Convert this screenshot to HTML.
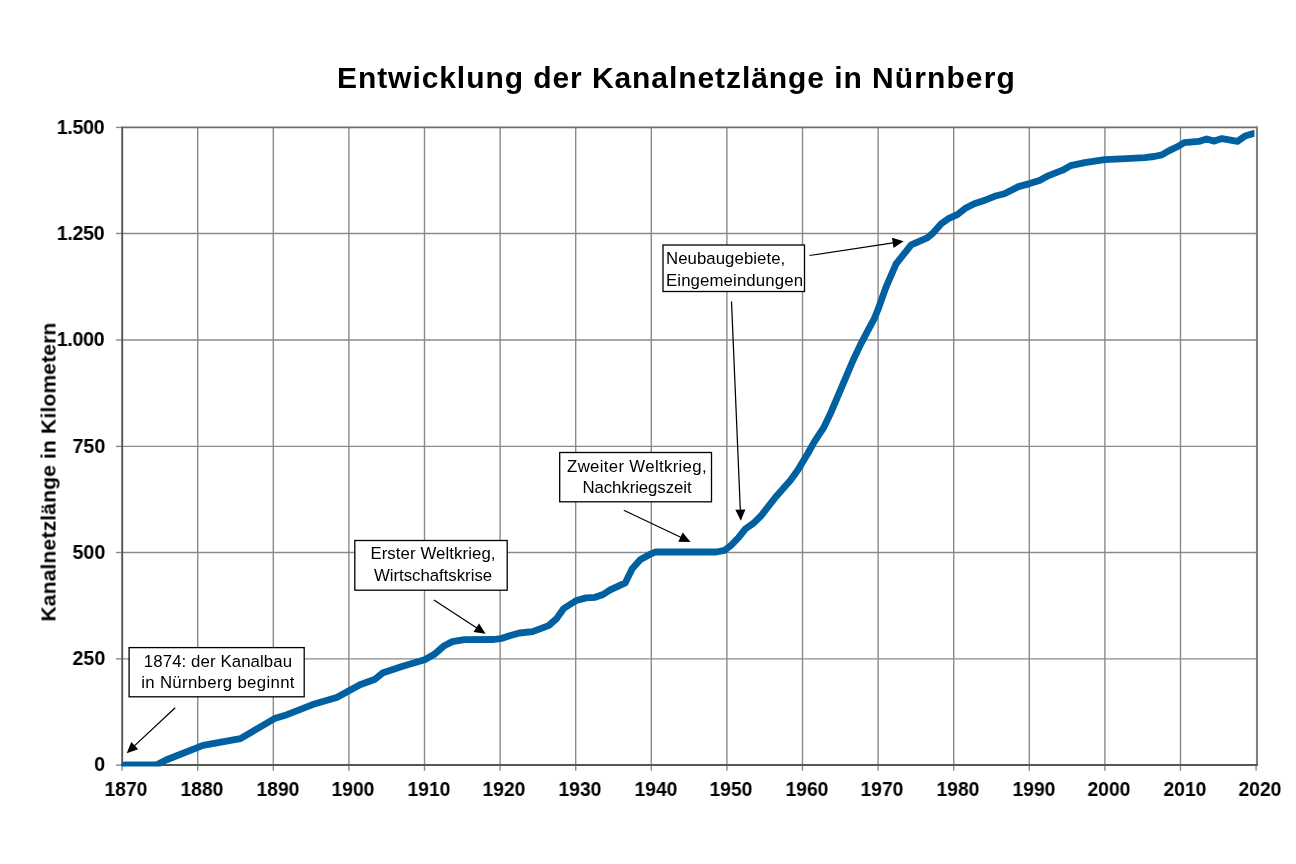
<!DOCTYPE html>
<html lang="de"><head><meta charset="utf-8"><title>Entwicklung der Kanalnetzlänge in Nürnberg</title>
<style>
html,body{margin:0;padding:0;background:#fff;}
body{width:1296px;height:864px;position:relative;overflow:hidden;font-family:"Liberation Sans",sans-serif;color:#000;}
.t{position:absolute;white-space:nowrap;will-change:transform;font-family:"Liberation Sans",sans-serif;color:#000;}
</style></head><body>
<svg width="1296" height="864" viewBox="0 0 1296 864" style="position:absolute;left:0;top:0">
<line x1="122.1" y1="127.4" x2="1257.7" y2="127.4" stroke="#6e6e6e" stroke-width="1.7"/>
<line x1="122.1" y1="233.50" x2="1257.0" y2="233.50" stroke="#8a8a8a" stroke-width="1.4"/>
<line x1="122.1" y1="340.05" x2="1257.0" y2="340.05" stroke="#8a8a8a" stroke-width="1.4"/>
<line x1="122.1" y1="446.40" x2="1257.0" y2="446.40" stroke="#8a8a8a" stroke-width="1.4"/>
<line x1="122.1" y1="552.50" x2="1257.0" y2="552.50" stroke="#8a8a8a" stroke-width="1.4"/>
<line x1="122.1" y1="658.90" x2="1257.0" y2="658.90" stroke="#8a8a8a" stroke-width="1.4"/>
<line x1="197.70" y1="127.4" x2="197.70" y2="765.1" stroke="#8a8a8a" stroke-width="1.4"/>
<line x1="273.30" y1="127.4" x2="273.30" y2="765.1" stroke="#8a8a8a" stroke-width="1.4"/>
<line x1="348.90" y1="127.4" x2="348.90" y2="765.1" stroke="#8a8a8a" stroke-width="1.4"/>
<line x1="424.50" y1="127.4" x2="424.50" y2="765.1" stroke="#8a8a8a" stroke-width="1.4"/>
<line x1="500.10" y1="127.4" x2="500.10" y2="765.1" stroke="#8a8a8a" stroke-width="1.4"/>
<line x1="575.70" y1="127.4" x2="575.70" y2="765.1" stroke="#8a8a8a" stroke-width="1.4"/>
<line x1="651.30" y1="127.4" x2="651.30" y2="765.1" stroke="#8a8a8a" stroke-width="1.4"/>
<line x1="726.90" y1="127.4" x2="726.90" y2="765.1" stroke="#8a8a8a" stroke-width="1.4"/>
<line x1="802.50" y1="127.4" x2="802.50" y2="765.1" stroke="#8a8a8a" stroke-width="1.4"/>
<line x1="878.10" y1="127.4" x2="878.10" y2="765.1" stroke="#8a8a8a" stroke-width="1.4"/>
<line x1="953.70" y1="127.4" x2="953.70" y2="765.1" stroke="#8a8a8a" stroke-width="1.4"/>
<line x1="1029.30" y1="127.4" x2="1029.30" y2="765.1" stroke="#8a8a8a" stroke-width="1.4"/>
<line x1="1104.90" y1="127.4" x2="1104.90" y2="765.1" stroke="#8a8a8a" stroke-width="1.4"/>
<line x1="1180.50" y1="127.4" x2="1180.50" y2="765.1" stroke="#8a8a8a" stroke-width="1.4"/>
<line x1="1257.0" y1="126.60000000000001" x2="1257.0" y2="766.1" stroke="#808080" stroke-width="2.1"/>
<line x1="116" y1="127.40" x2="122.1" y2="127.40" stroke="#8a8a8a" stroke-width="1.4"/>
<line x1="116" y1="233.50" x2="122.1" y2="233.50" stroke="#8a8a8a" stroke-width="1.4"/>
<line x1="116" y1="340.05" x2="122.1" y2="340.05" stroke="#8a8a8a" stroke-width="1.4"/>
<line x1="116" y1="446.40" x2="122.1" y2="446.40" stroke="#8a8a8a" stroke-width="1.4"/>
<line x1="116" y1="552.50" x2="122.1" y2="552.50" stroke="#8a8a8a" stroke-width="1.4"/>
<line x1="116" y1="658.90" x2="122.1" y2="658.90" stroke="#8a8a8a" stroke-width="1.4"/>
<line x1="116" y1="765.10" x2="122.1" y2="765.10" stroke="#8a8a8a" stroke-width="1.4"/>
<line x1="122.10" y1="765.1" x2="122.10" y2="770.8" stroke="#8a8a8a" stroke-width="1.4"/>
<line x1="197.70" y1="765.1" x2="197.70" y2="770.8" stroke="#8a8a8a" stroke-width="1.4"/>
<line x1="273.30" y1="765.1" x2="273.30" y2="770.8" stroke="#8a8a8a" stroke-width="1.4"/>
<line x1="348.90" y1="765.1" x2="348.90" y2="770.8" stroke="#8a8a8a" stroke-width="1.4"/>
<line x1="424.50" y1="765.1" x2="424.50" y2="770.8" stroke="#8a8a8a" stroke-width="1.4"/>
<line x1="500.10" y1="765.1" x2="500.10" y2="770.8" stroke="#8a8a8a" stroke-width="1.4"/>
<line x1="575.70" y1="765.1" x2="575.70" y2="770.8" stroke="#8a8a8a" stroke-width="1.4"/>
<line x1="651.30" y1="765.1" x2="651.30" y2="770.8" stroke="#8a8a8a" stroke-width="1.4"/>
<line x1="726.90" y1="765.1" x2="726.90" y2="770.8" stroke="#8a8a8a" stroke-width="1.4"/>
<line x1="802.50" y1="765.1" x2="802.50" y2="770.8" stroke="#8a8a8a" stroke-width="1.4"/>
<line x1="878.10" y1="765.1" x2="878.10" y2="770.8" stroke="#8a8a8a" stroke-width="1.4"/>
<line x1="953.70" y1="765.1" x2="953.70" y2="770.8" stroke="#8a8a8a" stroke-width="1.4"/>
<line x1="1029.30" y1="765.1" x2="1029.30" y2="770.8" stroke="#8a8a8a" stroke-width="1.4"/>
<line x1="1104.90" y1="765.1" x2="1104.90" y2="770.8" stroke="#8a8a8a" stroke-width="1.4"/>
<line x1="1180.50" y1="765.1" x2="1180.50" y2="770.8" stroke="#8a8a8a" stroke-width="1.4"/>
<line x1="1256.10" y1="765.1" x2="1256.10" y2="770.8" stroke="#8a8a8a" stroke-width="1.4"/>
<line x1="122.19999999999999" y1="126.80000000000001" x2="122.19999999999999" y2="765.9" stroke="#555" stroke-width="1.9"/>
<line x1="121.3" y1="765.1" x2="1257.7" y2="765.1" stroke="#555" stroke-width="2.0"/>
<clipPath id="pc"><rect x="121.5" y="122.4" width="1132.9" height="644.0"/></clipPath>
<polyline clip-path="url(#pc)" points="124.6,765.0 156.3,765.0 166.0,760.0 203.0,745.3 240.4,738.6 274.5,718.6 284.5,715.6 312.6,704.6 336.7,697.6 349.0,690.8 360.0,684.8 375.1,679.2 383.1,672.7 404.2,665.7 424.7,659.7 434.3,654.3 444.3,645.7 452.3,641.6 464.4,639.6 494.0,639.5 502.0,638.3 510.5,635.6 519.5,633.0 532.6,631.6 548.6,625.6 556.6,618.6 563.7,608.5 576.3,600.5 586.1,597.9 595.1,597.3 603.1,594.5 610.2,589.9 625.2,582.9 632.2,568.8 640.2,559.8 648.3,555.2 655.3,552.0 716.5,552.0 724.5,550.4 730.5,545.8 738.5,537.7 745.6,528.7 753.6,523.1 760.6,516.3 776.6,495.9 790.7,480.0 798.2,469.5 807.5,454.0 814.3,441.9 823.5,427.9 830.3,413.8 838.4,394.8 845.3,378.7 852.9,360.7 860.5,344.6 867.3,331.6 874.3,318.6 878.0,309.5 886.1,286.9 896.1,263.9 911.2,244.8 927.2,237.8 933.2,232.8 941.2,223.8 948.3,218.7 957.3,214.7 965.3,208.3 974.3,203.7 986.4,199.7 996.4,195.7 1004.4,193.7 1018.5,186.6 1029.5,183.6 1039.5,180.6 1048.6,175.6 1062.6,170.2 1070.6,165.6 1084.7,162.6 1104.7,159.6 1126.3,158.6 1144.8,157.6 1154.1,156.5 1161.8,154.9 1168.7,150.9 1177.2,146.8 1184.2,142.6 1198.8,141.4 1206.5,139.0 1214.3,141.1 1222.0,138.6 1237.4,141.4 1245.1,136.0 1253.6,133.6 1260.0,132.2" fill="none" stroke="#0060a0" stroke-width="6.8" stroke-linejoin="round" stroke-linecap="round"/>
<rect x="129.1" y="647.6" width="175.1" height="49.2" fill="#fff" stroke="#000" stroke-width="1.3"/>
<rect x="354.8" y="540.5" width="152.4" height="49.7" fill="#fff" stroke="#000" stroke-width="1.3"/>
<rect x="559.7" y="452.5" width="151.8" height="49.3" fill="#fff" stroke="#000" stroke-width="1.3"/>
<rect x="663.0" y="245.0" width="141.5" height="46.5" fill="#fff" stroke="#000" stroke-width="1.3"/>
<line x1="175.2" y1="707.7" x2="133.3" y2="746.9" stroke="#000" stroke-width="1.25"/><polygon points="126.7,753.2 131.3,741.9 138.2,749.3" fill="#000"/>
<line x1="433.9" y1="600.1" x2="478.0" y2="628.8" stroke="#000" stroke-width="1.25"/><polygon points="485.6,633.7 473.5,632.0 479.1,623.4" fill="#000"/>
<line x1="623.8" y1="510.2" x2="682.3" y2="538.0" stroke="#000" stroke-width="1.25"/><polygon points="690.5,541.9 678.3,541.7 682.7,532.5" fill="#000"/>
<line x1="809.5" y1="255.5" x2="894.7" y2="242.6" stroke="#000" stroke-width="1.25"/><polygon points="903.7,241.2 893.5,247.9 892.0,237.8" fill="#000"/>
<line x1="731.5" y1="301.5" x2="740.4" y2="511.6" stroke="#000" stroke-width="1.25"/><polygon points="740.8,520.7 735.3,509.8 745.4,509.4" fill="#000"/>
</svg>
<div class="t" style="left:336.90px;top:62.60px;font-size:30px;line-height:30.0px;font-weight:bold;letter-spacing:0.93px;">Entwicklung der Kanalnetzlänge in <span style="letter-spacing:1.1px">Nürnberg</span></div>
<div class="t" style="left:126.40px;transform:translateX(-50%) scaleX(0.965);top:778.67px;font-size:20px;line-height:20.0px;font-weight:bold;">1870</div>
<div class="t" style="left:202.00px;transform:translateX(-50%) scaleX(0.965);top:778.67px;font-size:20px;line-height:20.0px;font-weight:bold;">1880</div>
<div class="t" style="left:277.60px;transform:translateX(-50%) scaleX(0.965);top:778.67px;font-size:20px;line-height:20.0px;font-weight:bold;">1890</div>
<div class="t" style="left:353.20px;transform:translateX(-50%) scaleX(0.965);top:778.67px;font-size:20px;line-height:20.0px;font-weight:bold;">1900</div>
<div class="t" style="left:428.80px;transform:translateX(-50%) scaleX(0.965);top:778.67px;font-size:20px;line-height:20.0px;font-weight:bold;">1910</div>
<div class="t" style="left:504.40px;transform:translateX(-50%) scaleX(0.965);top:778.67px;font-size:20px;line-height:20.0px;font-weight:bold;">1920</div>
<div class="t" style="left:580.00px;transform:translateX(-50%) scaleX(0.965);top:778.67px;font-size:20px;line-height:20.0px;font-weight:bold;">1930</div>
<div class="t" style="left:655.60px;transform:translateX(-50%) scaleX(0.965);top:778.67px;font-size:20px;line-height:20.0px;font-weight:bold;">1940</div>
<div class="t" style="left:731.20px;transform:translateX(-50%) scaleX(0.965);top:778.67px;font-size:20px;line-height:20.0px;font-weight:bold;">1950</div>
<div class="t" style="left:806.80px;transform:translateX(-50%) scaleX(0.965);top:778.67px;font-size:20px;line-height:20.0px;font-weight:bold;">1960</div>
<div class="t" style="left:882.40px;transform:translateX(-50%) scaleX(0.965);top:778.67px;font-size:20px;line-height:20.0px;font-weight:bold;">1970</div>
<div class="t" style="left:958.00px;transform:translateX(-50%) scaleX(0.965);top:778.67px;font-size:20px;line-height:20.0px;font-weight:bold;">1980</div>
<div class="t" style="left:1033.60px;transform:translateX(-50%) scaleX(0.965);top:778.67px;font-size:20px;line-height:20.0px;font-weight:bold;">1990</div>
<div class="t" style="left:1109.20px;transform:translateX(-50%) scaleX(0.965);top:778.67px;font-size:20px;line-height:20.0px;font-weight:bold;">2000</div>
<div class="t" style="left:1184.80px;transform:translateX(-50%) scaleX(0.965);top:778.67px;font-size:20px;line-height:20.0px;font-weight:bold;">2010</div>
<div class="t" style="left:1260.40px;transform:translateX(-50%) scaleX(0.965);top:778.67px;font-size:20px;line-height:20.0px;font-weight:bold;">2020</div>
<div class="t" style="right:1191.50px;top:116.77px;font-size:20px;line-height:20.0px;font-weight:bold;letter-spacing:-0.35px;transform-origin:100% 50%;transform:scaleX(0.985);">1.500</div>
<div class="t" style="right:1191.50px;top:222.87px;font-size:20px;line-height:20.0px;font-weight:bold;letter-spacing:-0.35px;transform-origin:100% 50%;transform:scaleX(0.985);">1.250</div>
<div class="t" style="right:1191.50px;top:329.42px;font-size:20px;line-height:20.0px;font-weight:bold;letter-spacing:-0.35px;transform-origin:100% 50%;transform:scaleX(0.985);">1.000</div>
<div class="t" style="right:1190.90px;top:435.77px;font-size:20px;line-height:20.0px;font-weight:bold;letter-spacing:0px;transform-origin:100% 50%;transform:scaleX(0.985);">750</div>
<div class="t" style="right:1190.90px;top:541.87px;font-size:20px;line-height:20.0px;font-weight:bold;letter-spacing:0px;transform-origin:100% 50%;transform:scaleX(0.985);">500</div>
<div class="t" style="right:1190.90px;top:648.27px;font-size:20px;line-height:20.0px;font-weight:bold;letter-spacing:0px;transform-origin:100% 50%;transform:scaleX(0.985);">250</div>
<div class="t" style="right:1190.90px;top:754.47px;font-size:20px;line-height:20.0px;font-weight:bold;letter-spacing:0px;transform-origin:100% 50%;transform:scaleX(0.985);">0</div>
<div class="t" style="left:218.10px;transform:translateX(-50%);top:654.18px;font-size:16.8px;line-height:16.8px;font-weight:normal;letter-spacing:0.100px;">1874: der Kanalbau</div>
<div class="t" style="left:218.30px;transform:translateX(-50%);top:675.38px;font-size:16.8px;line-height:16.8px;font-weight:normal;letter-spacing:0.326px;">in Nürnberg beginnt</div>
<div class="t" style="left:433.00px;transform:translateX(-50%);top:546.48px;font-size:16.8px;line-height:16.8px;font-weight:normal;letter-spacing:0.087px;">Erster Weltkrieg,</div>
<div class="t" style="left:433.00px;transform:translateX(-50%);top:567.88px;font-size:16.8px;line-height:16.8px;font-weight:normal;letter-spacing:-0.014px;">Wirtschaftskrise</div>
<div class="t" style="left:637.10px;transform:translateX(-50%);top:458.68px;font-size:16.8px;line-height:16.8px;font-weight:normal;letter-spacing:0.323px;">Zweiter Weltkrieg,</div>
<div class="t" style="left:636.90px;transform:translateX(-50%);top:479.88px;font-size:16.8px;line-height:16.8px;font-weight:normal;letter-spacing:-0.076px;">Nachkriegszeit</div>
<div class="t" style="left:666.10px;top:251.28px;font-size:16.8px;line-height:16.8px;font-weight:normal;letter-spacing:0.056px;">Neubaugebiete,</div>
<div class="t" style="left:666.10px;top:272.68px;font-size:16.8px;line-height:16.8px;font-weight:normal;letter-spacing:0.120px;">Eingemeindungen</div>
<div class="t" style="left:48.2px;top:472.2px;font-size:21px;line-height:21px;font-weight:bold;letter-spacing:0.18px;transform:translate(-50%,-50%) rotate(-90deg);">Kanalnetzlänge in Kilometern</div>
</body></html>
